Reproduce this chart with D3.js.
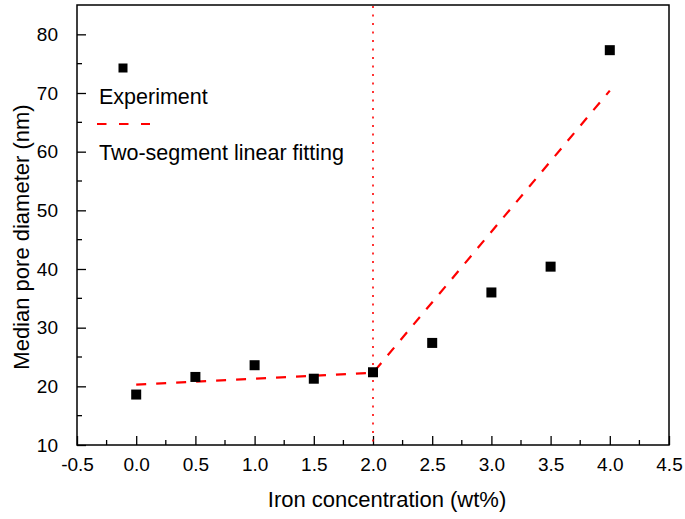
<!DOCTYPE html>
<html>
<head>
<meta charset="utf-8">
<script src="https://cdn.jsdelivr.net/npm/d3@7"></script>
<style>
  html, body { margin: 0; padding: 0; background: #fff; }
  text { font-family: "Liberation Sans", Arial, sans-serif; fill: #000; }
</style>
</head>
<body>
<svg id="chart" width="685" height="519"></svg>
<script>
// ---- data ----
const ironConc = [0.0, 0.5, 1.0, 1.5, 2.0, 2.5, 3.0, 3.5, 4.0];
const poreDiameter = [18.6, 21.6, 23.6, 21.3, 22.4, 27.4, 36.0, 40.4, 77.3];
const fitSegX = [0.0, 2.0, 4.0];
const fitSegY = [20.3, 22.3, 70.4];
const breakPointX = 2.0;
const xTicks = [-0.5, 0.0, 0.5, 1.0, 1.5, 2.0, 2.5, 3.0, 3.5, 4.0, 4.5];
const yTicks = [10, 20, 30, 40, 50, 60, 70, 80];
const xTitle = "Iron concentration (wt%)";
const yTitle = "Median pore diameter (nm)";
const legendLabels = ["Experiment", "Two-segment linear fitting"];

// ---- layout ----
const svg = d3.select("#chart");
const L = 77, R = 669, T = 5, B = 445;
const x = d3.scaleLinear().domain([-0.5, 4.5]).range([L, R]);
const y = d3.scaleLinear().domain([10, 85]).range([B, T]);

// minor ticks
const xMinor = d3.range(-0.25, 4.5, 0.5);
const yMinor = d3.range(15, 85, 10);

const g = svg.append("g");

// frame
g.append("rect").attr("x", L).attr("y", T).attr("width", R - L).attr("height", B - T)
  .attr("fill", "none").attr("stroke", "#000").attr("stroke-width", 1.5);

const fmtX = d => d.toFixed(1);

// x axis ticks (inward)
const xAxis = d3.axisBottom(x).tickValues(xTicks).tickFormat(fmtX)
  .tickSizeInner(-9).tickSizeOuter(0).tickPadding(13);
const gx = g.append("g").attr("transform", `translate(0,${B})`).call(xAxis);
gx.select(".domain").remove();
gx.selectAll("line").attr("stroke-width", 1.3);
gx.selectAll("text").attr("font-size", 19).attr("font-family", "Liberation Sans, Arial, sans-serif");
gx.selectAll(".minor").data(xMinor).enter().append("line")
  .attr("x1", d => x(d)).attr("x2", d => x(d)).attr("y1", 0).attr("y2", -5)
  .attr("stroke", "#000").attr("stroke-width", 1.3);

// y axis ticks (inward)
const yAxis = d3.axisLeft(y).tickValues(yTicks).tickFormat(d => String(d))
  .tickSizeInner(-9).tickSizeOuter(0).tickPadding(19);
const gy = g.append("g").attr("transform", `translate(${L},0)`).call(yAxis);
gy.select(".domain").remove();
gy.selectAll("line").attr("stroke-width", 1.3);
gy.selectAll("text").attr("font-size", 19).attr("font-family", "Liberation Sans, Arial, sans-serif");
gy.selectAll(".minor").data(yMinor).enter().append("line")
  .attr("x1", 0).attr("x2", 5).attr("y1", d => y(d)).attr("y2", d => y(d))
  .attr("stroke", "#000").attr("stroke-width", 1.3);

// vertical dotted line at breakpoint
g.append("line")
  .attr("x1", x(breakPointX)).attr("x2", x(breakPointX))
  .attr("y1", T + 1).attr("y2", B)
  .attr("stroke", "#ff0000").attr("stroke-width", 1.6)
  .attr("stroke-dasharray", "2,6.5");

// fit line
const fitData = fitSegX.map((d, i) => [d, fitSegY[i]]);
g.append("path").datum(fitData)
  .attr("d", d3.line().x(d => x(d[0])).y(d => y(d[1])))
  .attr("fill", "none").attr("stroke", "#ff0000").attr("stroke-width", 2.2)
  .attr("stroke-dasharray", "10,10");

// points
const sz = 10;
g.selectAll(".pt").data(ironConc.map((d, i) => [d, poreDiameter[i]])).enter()
  .append("rect").attr("class", "pt")
  .attr("x", d => x(d[0]) - sz / 2).attr("y", d => y(d[1]) - sz / 2)
  .attr("width", sz).attr("height", sz).attr("fill", "#000");

// legend
const leg = g.append("g");
leg.append("rect").attr("x", 123 - 4.5).attr("y", 68 - 4.5).attr("width", 9).attr("height", 9).attr("fill", "#000");
leg.append("text").attr("x", 99).attr("y", 104).attr("font-size", 21.5).text(legendLabels[0]);
leg.append("line").attr("x1", 97).attr("x2", 150).attr("y1", 124).attr("y2", 124)
  .attr("stroke", "#ff0000").attr("stroke-width", 2.2).attr("stroke-dasharray", "9.5,12.5");
leg.append("text").attr("x", 99).attr("y", 160).attr("font-size", 21.5).text(legendLabels[1]);

// axis titles
svg.append("text").attr("x", 387).attr("y", 507).attr("text-anchor", "middle")
  .attr("font-size", 22).text(xTitle);
svg.append("text").attr("transform", `translate(29,237) rotate(-90)`).attr("text-anchor", "middle")
  .attr("font-size", 22).text(yTitle);
</script>
</body>
</html>
